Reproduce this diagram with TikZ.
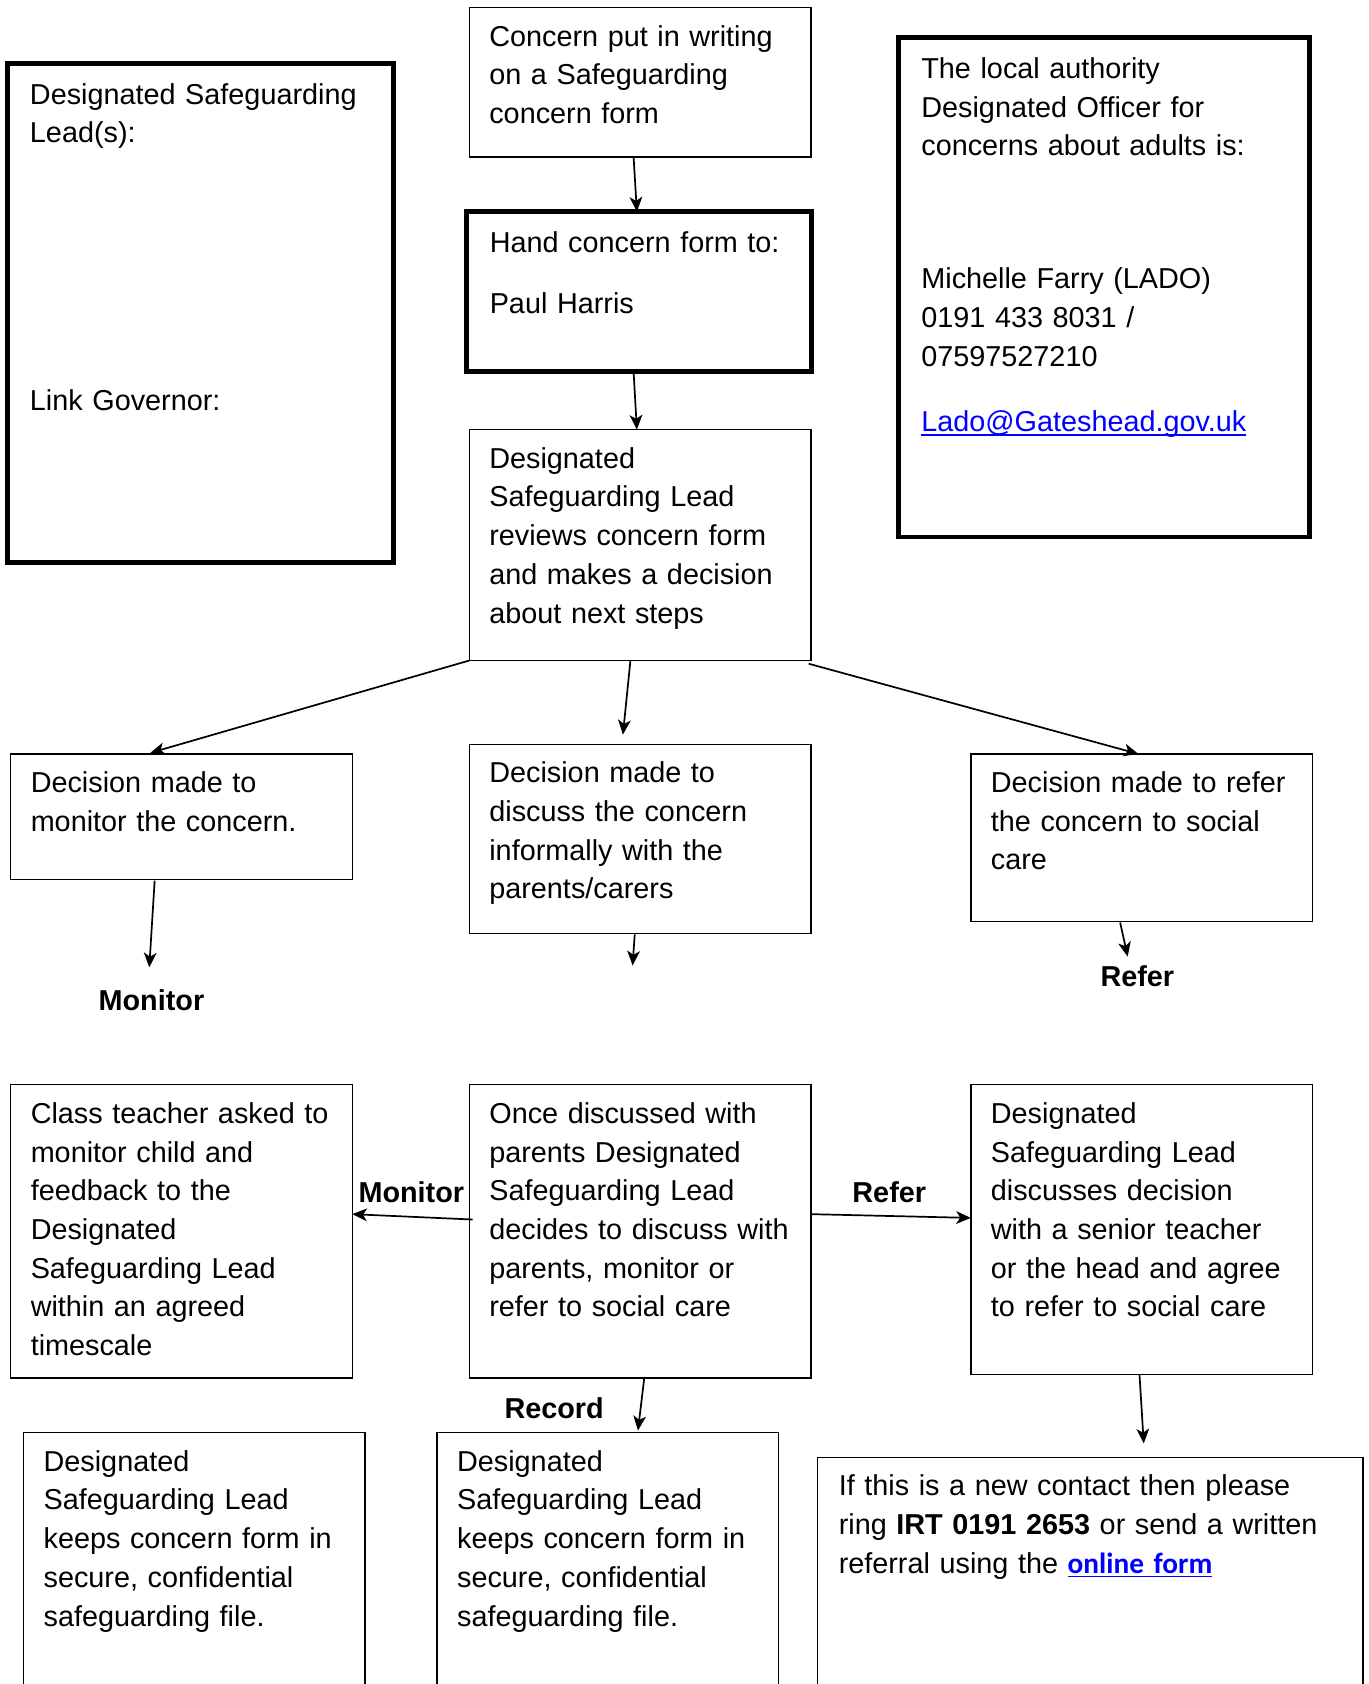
\documentclass[tikz,border=0pt]{standalone}
\usepackage{fontspec}
\setmainfont{Liberation Sans}
\newfontfamily\linkfont{Carlito}
\usetikzlibrary{calc,arrows.meta}

\definecolor{linkblue}{RGB}{0,0,255}
\newcommand{\bodyfont}{\fontsize{11.8pt}{15.86pt}\selectfont}
% underline close to the baseline, as a word processor does
\newcommand{\linktext}[1]{\leavevmode\setbox0\hbox{#1}\rlap{\rule[-1.6pt]{\wd0}{0.6pt}}\box0}

\tikzset{
  flowbox/.style={draw, line width=0.6pt, anchor=north west, outer sep=0pt,
    align=left, inner xsep=8.2pt, inner ysep=4pt, text height=11.8pt,
    text width=123.52pt, font=\bodyfont},
  thickbox/.style={flowbox, line width=2pt, inner xsep=9.2pt, text height=12.7pt},
  steplabel/.style={inner sep=0pt, font=\bfseries\bodyfont},
  flowarrow/.style={-{Stealth[length=6pt,width=5.2pt,inset=1.6pt]}, line width=0.7pt}
}

\begin{document}
\begin{tikzpicture}[x=0.44pt,y=-0.44pt]
\useasboundingbox (0,0) rectangle (1274,1568);

% Side boxes:
\node[thickbox, text width=139.56pt, text depth=183.9pt] (dsl) at (7,59)
  {Designated Safeguarding\\ Lead(s):\\[93.7pt] Link Governor:};
\node[thickbox, text width=149.68pt, text depth=183.9pt] (lado) at (837,35)
  {The local authority\\ Designated Officer for\\ concerns about adults is:\\[38.7pt]
   Michelle Farry (LADO)\\ 0191 433 8031 /\\ 07597527210\\[11pt]
   \textcolor{linkblue}{\linktext{Lado@Gateshead.gov.uk}}};

% Top of the flow:
\node[flowbox, text depth=41.36pt] (concern) at (437,7)
  {Concern put in writing\\ on a Safeguarding\\ concern form};
\node[thickbox, inner xsep=9.7pt, text width=122.28pt, text depth=44.86pt] (hand) at (434,197)
  {Hand concern form to:\\[9.2pt] Paul Harris};
\node[flowbox, text depth=74.8pt] (review) at (437,400)
  {Designated\\ Safeguarding Lead\\ reviews concern form\\ and makes a decision\\ about next steps};

% The three decisions:
\node[flowbox, text depth=31.68pt] (mondec) at (10,702)
  {Decision made to\\ monitor the concern.};
\node[flowbox, text depth=57.64pt] (discuss) at (437,693)
  {Decision made to\\ discuss the concern\\ informally with the\\ parents/carers};
\node[flowbox, text depth=48.84pt] (referdec) at (904,702)
  {Decision made to refer\\ the concern to social\\ care};

\node[steplabel] (monlbl) at (141,931) {Monitor};
\node[steplabel] (reflbl) at (1059,909) {Refer};
\coordinate (discend) at (589,899);

% Second row:
\node[flowbox, text depth=100.32pt] (classt) at (10,1010)
  {Class teacher asked to\\ monitor child and\\ feedback to the\\ Designated\\ Safeguarding Lead\\ within an agreed\\ timescale};
\node[flowbox, text depth=100.32pt] (once) at (437,1010)
  {Once discussed with\\ parents Designated\\ Safeguarding Lead\\ decides to discuss with\\ parents, monitor or\\ refer to social care};
\node[flowbox, text depth=99pt] (dsldisc) at (904,1010)
  {Designated\\ Safeguarding Lead\\ discusses decision\\ with a senior teacher\\ or the head and agree\\ to refer to social care};

\node[steplabel] (monlbl2) at (383,1110) {Monitor};
\node[steplabel] (reflbl2) at (828,1110) {Refer};
\node[steplabel] (reclbl) at (516,1311) {Record};

% Bottom row (runs off the page):
\node[flowbox, text depth=85.8pt] (keepl) at (22,1334)
  {Designated\\ Safeguarding Lead\\ keeps concern form in\\ secure, confidential\\ safeguarding file.};
\node[flowbox, text depth=85.8pt] (keepm) at (407,1334)
  {Designated\\ Safeguarding Lead\\ keeps concern form in\\ secure, confidential\\ safeguarding file.};
\node[flowbox, inner xsep=8.8pt, text width=205.9pt, text depth=75.68pt] (irt) at (761,1357)
  {If this is a new contact then please\\ ring \textbf{IRT 0191 2653} or send a written\\
   referral using the \textcolor{linkblue}{\linkfont\bfseries\fontsize{12pt}{15.86pt}\selectfont\linktext{online form}}};

% Arrows:
\draw[flowarrow] ($(concern.south)+(-6,1)$) -- ($(hand.north)+(-2,0)$);
\draw[flowarrow] ($(hand.south)+(-5,1)$) -- ($(review.north)+(-3,0)$);
\draw[flowarrow] (review.south west) -- ($(mondec.north)+(-29,-1)$);
\draw[flowarrow] ($(review.south)+(-9,0)$) -- ($(discuss.north)+(-16,-9)$);
\draw[flowarrow] ($(review.south east)+(-2,3)$) -- ($(referdec.north)+(-3,0)$);
\draw[flowarrow] ($(mondec.south)+(-25,1)$) -- ($(monlbl.north)+(-2,-20)$);
\draw[flowarrow] ($(discuss.south)+(-5,1)$) -- (discend);
\draw[flowarrow] ($(referdec.south)+(-20,1)$) -- ($(reflbl.north)+(-9,-8)$);
\draw[flowarrow] ($(once.west)+(3,-11)$) -- ($(classt.east)+(0,-16)$);
\draw[flowarrow] ($(once.east)+(0,-16)$) -- ($(dsldisc.west)+(0,-11)$);
\draw[flowarrow] ($(once.south)+(4,-1)$) -- ($(keepm.north)+(28,-2)$);
\draw[flowarrow] ($(dsldisc.south)+(-2,0)$) -- ($(irt.north)+(50,-13)$);
\end{tikzpicture}
\end{document}
